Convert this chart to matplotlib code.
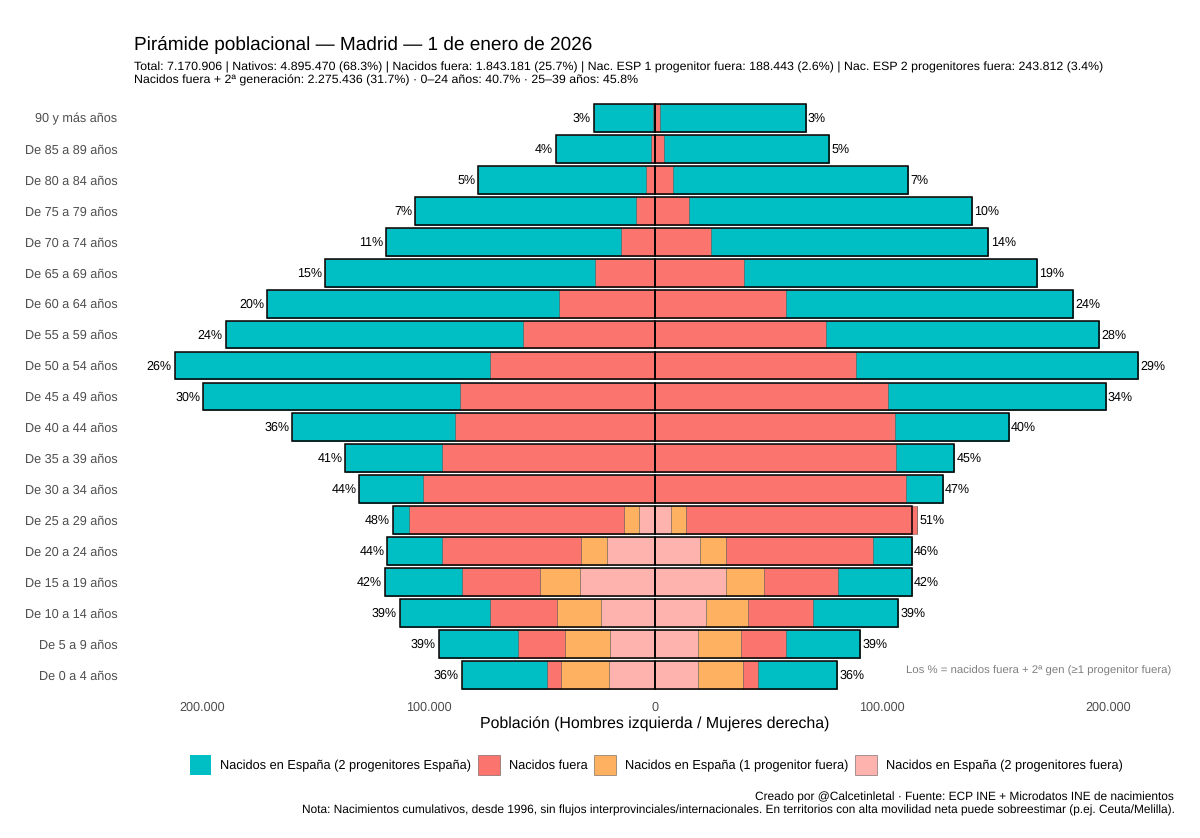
import numpy as np
import matplotlib
matplotlib.use("Agg")
import matplotlib.pyplot as plt
from matplotlib.patches import Patch

plt.rcParams['font.family'] = ['Liberation Sans', 'DejaVu Sans']
plt.rcParams['text.hinting'] = 'no_hinting'

ages = ["90 y más años", "De 85 a 89 años", "De 80 a 84 años", "De 75 a 79 años", "De 70 a 74 años",
        "De 65 a 69 años", "De 60 a 64 años", "De 55 a 59 años", "De 50 a 54 años", "De 45 a 49 años",
        "De 40 a 44 años", "De 35 a 39 años", "De 30 a 34 años", "De 25 a 29 años", "De 20 a 24 años",
        "De 15 a 19 años", "De 10 a 14 años", "De 5 a 9 años", "De 0 a 4 años"]

# values in persons (top row to bottom row)
men_2p = np.array([0, 0, 0, 0, 0, 0, 0, 0, 0, 0, 0, 0, 0, 6900, 21000, 32900, 23700, 19700, 20500])
men_1p = np.array([0, 0, 0, 0, 0, 0, 0, 0, 0, 0, 0, 0, 0, 6900, 11700, 17700, 19600, 20200, 20800])
men_fuera = np.array([1000, 1900, 4000, 8400, 15100, 26500, 42200, 58400, 72800, 85900, 88400, 93900,
                      102500, 94900, 61100, 34700, 29700, 20600, 6500])
men_nat = np.array([26000, 41800, 74000, 97500, 103600, 119000, 128900, 131100, 139200, 113400, 71800,
                    42800, 28000, 7000, 24400, 33900, 39700, 34900, 37500])

women_2p = np.array([0, 0, 0, 0, 0, 0, 0, 0, 0, 0, 0, 0, 0, 6900, 20000, 31200, 22700, 18800, 19100])
women_1p = np.array([0, 0, 0, 0, 0, 0, 0, 0, 0, 0, 0, 0, 0, 6800, 11200, 16700, 18400, 19200, 19800])
women_fuera = np.array([2200, 4100, 8100, 15100, 24800, 39100, 57900, 75300, 88800, 103000, 106000, 106400,
                        110600, 102100, 64800, 32900, 28400, 19700, 6500])
women_nat = np.array([64300, 72600, 103600, 124800, 122300, 129300, 126700, 120500, 124200, 95900, 50100,
                      25700, 16400, 0, 17200, 32400, 37700, 32900, 35000])
# outline totals: in 25-29 women the outline stops short of the red segment
women_total = np.array([66500, 76700, 111700, 139900, 147100, 168400, 184600, 195800, 213000, 198900, 156100,
                        132100, 127000, 113200, 113200, 113200, 107200, 90600, 80400])
men_total = men_2p + men_1p + men_fuera + men_nat

men_pct = [3, 4, 5, 7, 11, 15, 20, 24, 26, 30, 36, 41, 44, 48, 44, 42, 39, 39, 36]
women_pct = [3, 5, 7, 10, 14, 19, 24, 28, 29, 34, 40, 45, 47, 51, 46, 42, 39, 39, 36]

xticks = [-200000, -100000, 0, 100000, 200000]

series_names = ["Nacidos en España (2 progenitores España)", "Nacidos fuera",
                "Nacidos en España (1 progenitor fuera)", "Nacidos en España (2 progenitores fuera)"]
C_NAT, C_FUERA, C_1P, C_2P = "#00BFC4", "#FC746E", "#FDB161", "#FFB3AE"

W, H = 1200, 838
fig = plt.figure(figsize=(W / 100, H / 100), dpi=100, facecolor="white")
L, R, T, B = 134, 1176, 100, 692
ax = fig.add_axes([L / W, 1 - B / H, (R - L) / W, (B - T) / H])

y = np.arange(len(ages))[::-1]
h = 0.9
seg_edge = (0.25, 0.25, 0.25, 0.55)
for sign, stacks in ((-1, (men_2p, men_1p, men_fuera, men_nat)), (1, (women_2p, women_1p, women_fuera, women_nat))):
    left = np.zeros(len(ages))
    for vals, col in zip(stacks, (C_2P, C_1P, C_FUERA, C_NAT)):
        ax.barh(y, sign * vals, left=sign * left, height=h, color=col, edgecolor=seg_edge, linewidth=0.5, zorder=2)
        left = left + vals

ax.barh(y, -men_total, height=h, fill=False, edgecolor="black", linewidth=1.1, zorder=3)
ax.barh(y, women_total, height=h, fill=False, edgecolor="black", linewidth=1.1, zorder=3)

women_sum = women_2p + women_1p + women_fuera + women_nat
for yi, mt, wt, mp, wp in zip(y, men_total, np.maximum(women_total, women_sum), men_pct, women_pct):
    ax.annotate(f"{mp}%", (-mt, yi), xytext=(-2, -0.4), textcoords="offset points", ha="right", va="center",
                fontsize=9.0, color="black")
    ax.annotate(f"{wp}%", (wt, yi), xytext=(1.6, -0.4), textcoords="offset points", ha="left", va="center",
                fontsize=9.0, color="black")

ax.set_xlim(-229900, 229900)
ax.set_ylim(-0.55, 18.58)
ax.set_yticks(y)
ax.set_yticklabels(ages, fontsize=9.1, color="#4D4D4D")
ax.set_xticks(xticks)
ax.set_xticklabels([f"{abs(v):,}".replace(",", ".") for v in xticks], fontsize=9.1, color="#4D4D4D")
ax.tick_params(length=0, axis="both")
ax.tick_params(axis="y", pad=12)
ax.tick_params(axis="x", pad=6.5)
for s in ax.spines.values():
    s.set_visible(False)
ax.set_xlabel("Población (Hombres izquierda / Mujeres derecha)", fontsize=11.4, color="black", labelpad=3)


def px_text(x, yy, s, **kw):
    fig.text(x / W, 1 - yy / H, s, **kw)


px_text(134, 45.5, "Pirámide poblacional — Madrid — 1 de enero de 2026", fontsize=13.7, ha="left", va="center", color="black")
px_text(134, 67.5, "Total: 7.170.906 | Nativos: 4.895.470 (68.3%) | Nacidos fuera: 1.843.181 (25.7%) | Nac. ESP 1 progenitor fuera: 188.443 (2.6%) | Nac. ESP 2 progenitores fuera: 243.812 (3.4%)",
        fontsize=8.94, ha="left", va="center", color="black")
px_text(134, 80.5, "Nacidos fuera + 2ª generación: 2.275.436 (31.7%) · 0–24 años: 40.7% · 25–39 años: 45.8%",
        fontsize=8.94, ha="left", va="center", color="black")
px_text(1171, 670.5, "Los % = nacidos fuera + 2ª gen (≥1 progenitor fuera)", fontsize=8.17, ha="right", va="center", color="#7F7F7F")
px_text(1174, 797, "Creado por @Calcetinletal · Fuente: ECP INE + Microdatos INE de nacimientos", fontsize=8.6, ha="right", va="center", color="black")
px_text(1175, 810.5, "Nota: Nacimientos cumulativos, desde 1996, sin flujos interprovinciales/internacionales. En territorios con alta movilidad neta puede sobreestimar (p.ej. Ceuta/Melilla).",
        fontsize=8.6, ha="right", va="center", color="black")

handles = [Patch(facecolor=C_NAT, edgecolor="none"),
           Patch(facecolor=C_FUERA, edgecolor=seg_edge, linewidth=0.6),
           Patch(facecolor=C_1P, edgecolor=seg_edge, linewidth=0.6),
           Patch(facecolor=C_2P, edgecolor=seg_edge, linewidth=0.6)]
fig.legend(handles, series_names, ncol=4, loc="center", bbox_to_anchor=(656 / W, 1 - 765 / H), frameon=False,
           fontsize=9.17, handlelength=1.72, handleheight=2.1, handletextpad=0.7, columnspacing=0.52,
           labelcolor="black", borderpad=0, borderaxespad=0)

fig.savefig("out.png", dpi=100, facecolor="white")
